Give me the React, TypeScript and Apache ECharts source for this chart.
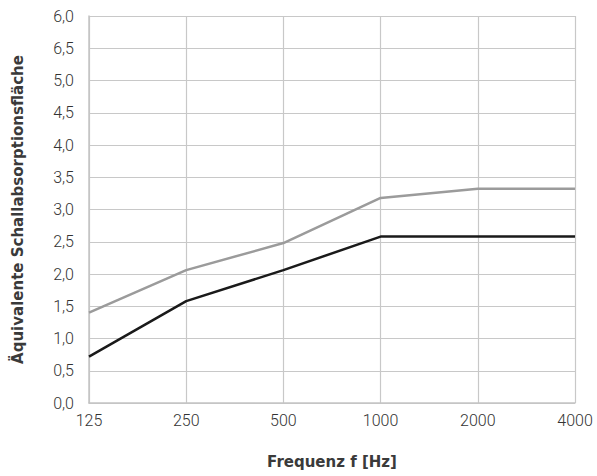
import React, { useEffect, useRef } from "react";
import * as echarts from "echarts";

const categories = ["125", "250", "500", "1000", "2000", "4000"];
const greySeries = [1.4, 2.06, 2.48, 3.18, 3.32, 3.32];
const blackSeries = [0.72, 1.58, 2.06, 2.58, 2.58, 2.58];
const yTickLabels: Record<string, string> = {
  "0": "0,0", "0.5": "0,5", "1": "1,0", "1.5": "1,5", "2": "2,0", "2.5": "2,5",
  "3": "3,0", "3.5": "3,5", "4": "4,0", "4.5": "4,5", "5": "5,0", "5.5": "6,5", "6": "6,0",
};

export default function App() {
  const ref = useRef<HTMLDivElement>(null);
  useEffect(() => {
    const chart = echarts.init(ref.current!, undefined, { renderer: "svg" });
    const font = "Roboto";
    const titleFont = "'DejaVu Sans'";
    chart.setOption({
      animation: false,
      backgroundColor: "#ffffff",
      grid: { left: 89, right: 22, top: 16, bottom: 73, containLabel: false },
      xAxis: {
        type: "category",
        data: categories,
        boundaryGap: false,
        name: "Frequenz f [Hz]",
        nameLocation: "middle",
        nameGap: 51,
        nameTextStyle: { fontFamily: titleFont, fontWeight: "bold", fontSize: 15, color: "#3a3a3a" },
        axisLine: { lineStyle: { color: "#c4c4c4", width: 1.5 } },
        axisTick: { show: false },
        axisLabel: { fontFamily: font, fontWeight: 300, fontSize: 16, color: "#333", margin: 9 },
        splitLine: { show: true, lineStyle: { color: "#c8c8c8", width: 1.2 } },
      },
      yAxis: {
        type: "value",
        min: 0,
        max: 6,
        interval: 0.5,
        name: "Äquivalente Schallabsorptionsfläche",
        nameLocation: "middle",
        nameGap: 64,
        nameTextStyle: { fontFamily: titleFont, fontWeight: "bold", fontSize: 15, color: "#3a3a3a" },
        axisLine: { show: true, lineStyle: { color: "#c4c4c4", width: 1.5 } },
        axisTick: { show: false },
        axisLabel: {
          fontFamily: font, fontWeight: 300, fontSize: 16, color: "#333", margin: 15,
          formatter: (v: number) => yTickLabels[String(v)] ?? String(v),
        },
        splitLine: { show: true, lineStyle: { color: "#c8c8c8", width: 1.2 } },
      },
      series: [
        {
          type: "line",
          data: greySeries,
          symbol: "none",
          lineStyle: { color: "#9b9b9b", width: 2.5 },
        },
        {
          type: "line",
          data: blackSeries,
          symbol: "none",
          lineStyle: { color: "#1a1a1a", width: 2.5 },
        },
      ],
    });
    return () => chart.dispose();
  }, []);
  return <div ref={ref} style={{ width: 597, height: 476, position: "absolute", left: 0, top: 0 }} />;
}
